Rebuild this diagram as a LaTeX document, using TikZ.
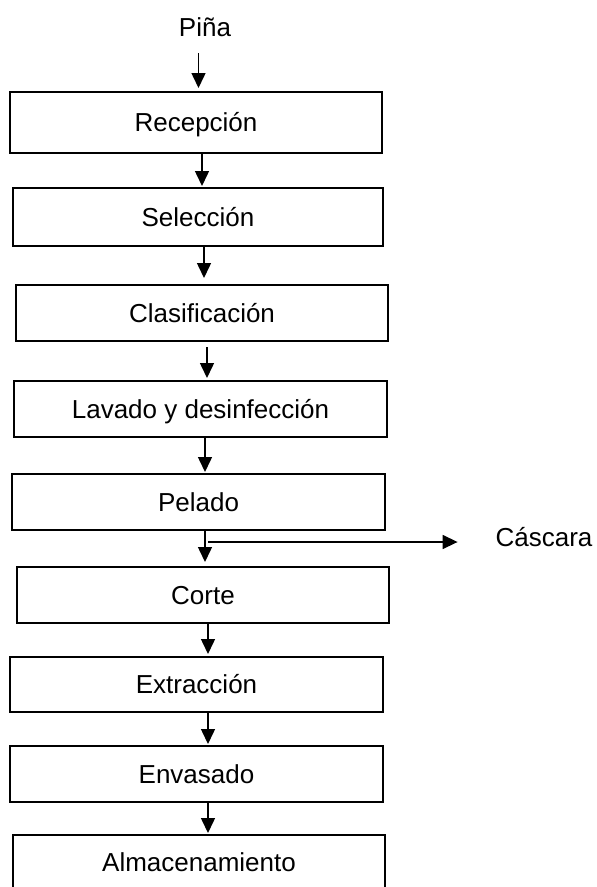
\documentclass[tikz,border=0pt]{standalone}
\usepackage{fontspec}
\setmainfont{Liberation Sans}
\usetikzlibrary{arrows.meta}
\begin{document}
\begin{tikzpicture}[x=1pt,y=-1pt,
  txt/.style={inner sep=0pt, outer sep=0pt, text height=18.6pt, text depth=0pt,
    font=\fontsize{26}{30}\selectfont},
  box/.style={txt, draw, line width=1.7pt},
  flow/.style={line width=1.5pt, -{Triangle[length=15pt,width=14pt]}}]
\useasboundingbox (0,0) rectangle (597,887);
\clip (0,0) rectangle (597,887);
\fill[white] (0,0) rectangle (597,887);

% input
\node[txt] (pina) at (205,27) {Piña};

% process steps
\node[box, minimum width=372pt, minimum height=61pt] (recep)  at (196,122.5) {Recepción};
\node[box, minimum width=370pt, minimum height=58pt] (selec)  at (198,217)   {Selección};
\node[box, minimum width=372pt, minimum height=56pt] (clasif) at (202,313)   {Clasificación};
\node[box, minimum width=373pt, minimum height=56pt] (lavado) at (200.5,409) {Lavado y desinfección};
\node[box, minimum width=373pt, minimum height=56pt] (pelado) at (198.5,502) {Pelado};
\node[box, minimum width=372pt, minimum height=56pt] (corte)  at (203,595)   {Corte};
\node[box, minimum width=373pt, minimum height=55pt] (extrac) at (196.5,684.5) {Extracción};
\node[box, minimum width=373pt, minimum height=56pt] (envas)  at (196.5,774) {Envasado};
\node[box, minimum width=372pt, minimum height=55pt] (almac)  at (199,862.5) {Almacenamiento};

% by-product
\node[txt] (casc) at (544,537.5) {Cáscara};

% main flow
\draw[flow, shorten <=17pt, shorten >=4pt] (pina.south -| 198.5,0) -- (recep.north -| 198.5,0);
\draw[flow, shorten >=2pt] (recep.south -| 202,0) -- (selec.north -| 202,0);
\draw[flow, shorten >=7pt] (selec.south -| 204,0) -- (clasif.north -| 204,0);
\draw[flow, shorten <=6pt, shorten >=3pt] (clasif.south -| 207,0) -- (lavado.north -| 207,0);
\draw[flow, shorten >=2pt] (lavado.south -| 205,0) -- (pelado.north -| 205,0);
\draw[flow, shorten >=5pt] (pelado.south -| 205,0) -- (corte.north -| 205,0);
\draw[flow, shorten >=3pt] (corte.south -| 208,0) -- (extrac.north -| 208,0);
\draw[flow, shorten >=2pt] (extrac.south -| 208,0) -- (envas.north -| 208,0);
\draw[flow, shorten >=2pt] (envas.south -| 208,0) -- (almac.north -| 208,0);

% peel branch
\coordinate (split) at (208,542);
\draw[flow, shorten >=38pt] (split) -- (split -| casc.west);
\end{tikzpicture}
\end{document}
